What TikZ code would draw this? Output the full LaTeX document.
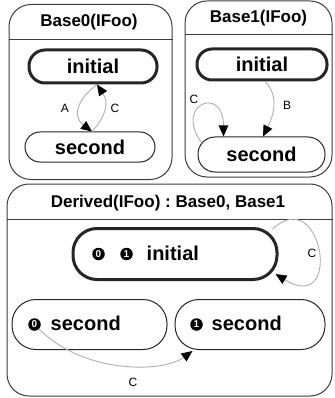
\documentclass[tikz,border=0pt]{standalone}
\usepackage{fontspec}
\setmainfont{Liberation Sans}
\usetikzlibrary{arrows.meta,calc}
\definecolor{edgegray}{RGB}{175,175,175}
\definecolor{framegray}{RGB}{60,60,60}
\frenchspacing
\begin{document}
\begin{tikzpicture}[x=1pt,y=-1pt,
  machine/.style={draw=framegray, line width=1pt, rounded corners=22pt, inner sep=0pt},
  header/.style={draw=framegray, line width=1pt},
  title/.style={font=\fontsize{17}{19}\selectfont\bfseries, inner sep=0pt},
  state/.style={draw=black!85, line width=1pt, inner sep=0pt, font=\fontsize{20}{24}\selectfont\bfseries},
  initstate/.style={state, line width=3pt},
  statetext/.style={inner sep=0pt, font=\fontsize{20}{24}\selectfont\bfseries},
  badge/.style={circle, fill=black, text=white, inner sep=0pt, minimum size=12.5pt, font=\fontsize{10}{10}\selectfont\bfseries},
  trans/.style={draw=edgegray, line width=0.9pt, -{Triangle[length=11pt,width=9.5pt,color=black]}},
  elabel/.style={font=\fontsize{12}{14}\selectfont, inner sep=0pt}]
\useasboundingbox (0,0) rectangle (334,398);

% state machine frames
\node[machine, minimum width=163pt, minimum height=175pt] (b0) at (90.5,92) {};
\node[machine, minimum width=147pt, minimum height=176pt] (b1) at (258.5,89) {};
\node[machine, minimum width=325pt, minimum height=212pt] (dv) at (169.5,290) {};

\node[title] (b0t) at (89,22) {Base0(IFoo)};
\node[title] (b1t) at (258.5,18) {Base1(IFoo)};
\node[title] (dvt) at (168,203) {Derived(IFoo) : Base0, Base1};

\draw[header] ($(b0.north west)+(0,35.5)$) -- ($(b0.north east)+(0,35.5)$);
\draw[header] ($(b1.north west)+(0,34)$) -- ($(b1.north east)+(0,34)$);
\draw[header] ($(dv.north west)+(0,36)$) -- ($(dv.north east)+(0,36)$);

% Base0 states
\node[initstate, rounded corners=16pt, minimum width=128pt, minimum height=33pt] (b0i) at (93,66.5) {initial};
\node[state, rounded corners=15pt, minimum width=130pt, minimum height=30pt] (b0s) at (90,147) {second};

% Base1 states
\node[initstate, rounded corners=15pt, minimum width=130pt, minimum height=31pt] (b1i) at (262,64.5) {initial};
\node[state, rounded corners=17pt, minimum width=127pt, minimum height=35pt] (b1s) at (261.5,154.5) {second};

% Derived states
\node[initstate, rounded corners=24pt, minimum width=204pt, minimum height=51pt] (di) at (175,254) {};
\node[state, rounded corners=24pt, minimum width=155pt, minimum height=50pt] (d0) at (89.5,324.5) {};
\node[state, rounded corners=24pt, minimum width=150pt, minimum height=50pt] (d1) at (250,324.5) {};

\node[badge] (dib0) at ($(di.west)+(27,0)$) {0};
\node[badge] (dib1) at ($(di.west)+(55,0)$) {1};
\node[statetext, anchor=west] (dit) at ($(di.west)+(75,-1)$) {initial};

\node[badge] (d0b) at ($(d0.west)+(23,0)$) {0};
\node[statetext, anchor=west] (d0t) at ($(d0.west)+(39,-1)$) {second};

\node[badge] (d1b) at ($(d1.west)+(22,0)$) {1};
\node[statetext, anchor=west] (d1t) at ($(d1.west)+(37,-1)$) {second};

% Base0 transitions
\draw[trans] ([xshift=4pt]b0i.south) .. controls +(-20,15) and +(-20,-15) .. ([xshift=2pt]b0s.north);
\draw[trans] ([xshift=2pt]b0s.north) .. controls +(14,-15) and +(12,18) .. ([xshift=4pt]b0i.south);
\node[elabel] (lA) at (65,108) {A};
\node[elabel] (lC0) at (115,108) {C};

% Base1 transitions
\draw[trans] ([xshift=3pt]b1i.south) .. controls +(15,15) and +(10,-20) .. ([xshift=1.5pt]b1s.north);
\draw[trans] ($(b1s.west)+(4,-12)$) .. controls +(-28,-38) and +(0,-52) .. ($(b1s.north)+(-38,0)$);
\node[elabel] (lB) at (287,105) {B};
\node[elabel] (lC1) at (194,99) {C};

% Derived transitions
\draw[trans] ($(di.north east)+(-6,2)$) .. controls +(50,-46) and +(68,42) .. ($(di.south east)+(-3,-7)$);
\draw[trans] (d0b.-45) .. controls +(45,45) and +(-30,22) .. ($(d1.south west)+(18,1)$);
\node[elabel] (lC2) at (312,253) {C};
\node[elabel] (lC3) at (133,382) {C};
\end{tikzpicture}
\end{document}
